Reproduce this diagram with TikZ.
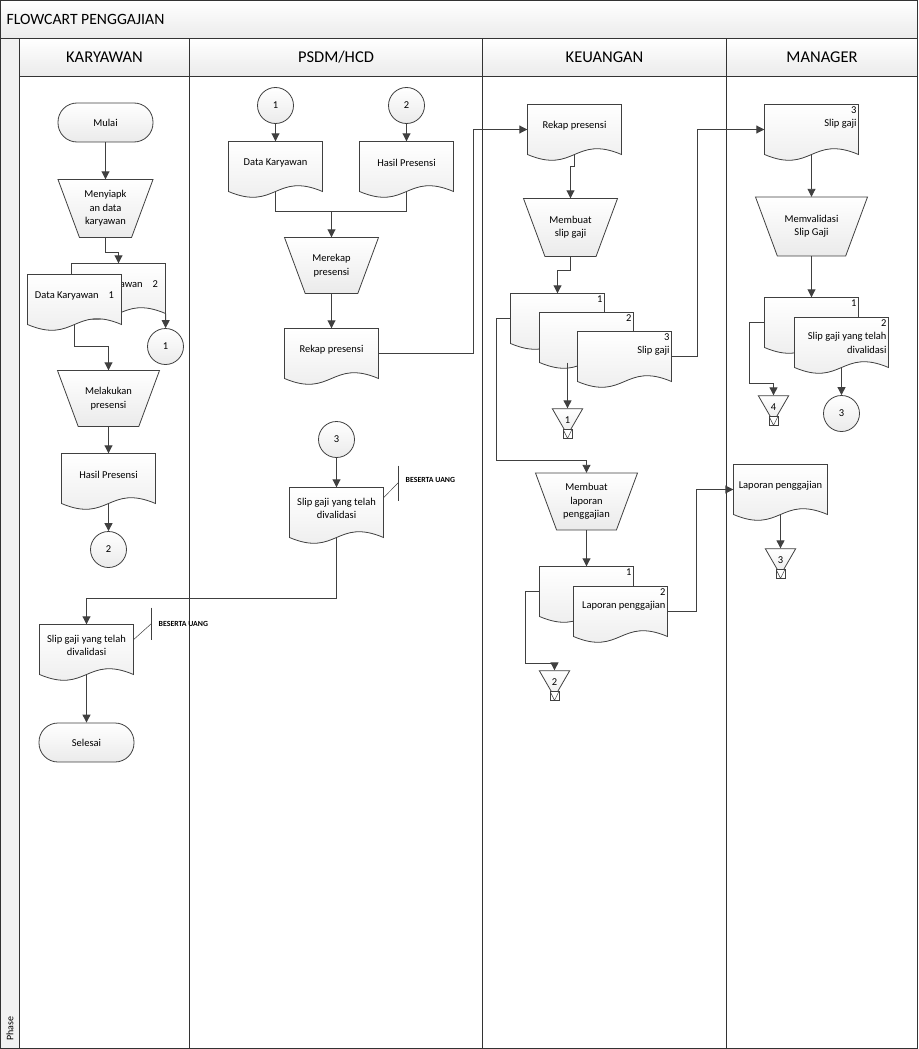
\documentclass[tikz,border=0pt]{standalone}
\usepackage{fontspec}
\setmainfont{Carlito}
\usetikzlibrary{shapes.geometric,arrows.meta}

\definecolor{lineclr}{HTML}{404040}
\definecolor{laneclr}{HTML}{333333}

\tikzset{
  txt/.style={font=\fontsize{10.5}{13.5}\selectfont, text=black},
  grad/.style={top color=white, bottom color=gray!16},
  docline/.style={draw=lineclr, line width=0.8pt, grad},
  docbox/.style={minimum width=94pt, minimum height=50pt, inner sep=0pt},
  manbox/.style={txt, align=center, inner sep=0pt},
  term/.style={txt, draw=lineclr, line width=0.8pt, grad, rounded corners=19pt, minimum width=95pt, minimum height=39pt},
  conn/.style={txt, draw=lineclr, line width=0.8pt, grad, circle, minimum size=36pt, inner sep=0pt},
  offpg/.style={draw=lineclr, line width=0.8pt, grad, regular polygon, regular polygon sides=3,
    shape border rotate=180, minimum size=35pt, inner sep=0pt},
  chkbox/.style={draw=lineclr, line width=0.6pt, fill=white, minimum size=9pt, inner sep=0pt,
    path picture={\draw[lineclr, line width=0.5pt] (path picture bounding box.north west)
      -- (path picture bounding box.south) -- (path picture bounding box.north east);}},
  arr/.style={draw=lineclr, line width=0.9pt, -{Triangle[length=8pt,width=8pt]}},
  link/.style={draw=lineclr, line width=0.9pt},
  note/.style={font=\bfseries\fontsize{7.8}{9}\selectfont, anchor=west, inner sep=0pt},
  noteline/.style={draw=lineclr, line width=0.5pt},
  lane/.style={draw=laneclr, line width=1pt},
  lanehead/.style={font=\fontsize{16.5}{18}\selectfont},
}

% document shape: left x, top y, width
\newcommand{\docshape}[3]{%
  \path[docline] (#1,#2) -- ({#1+#3},#2) -- ({#1+#3},{#2+50})
    .. controls ({#1+0.5*#3},{#2+30}) and ({#1+0.5*#3},{#2+70}) .. (#1,{#2+50}) -- cycle;
}
% document with centred text
\newcommand{\doc}[4]{%
  \docshape{#2}{#3}{94}
  \node[docbox] (#1) at ({#2+47},{#3+25}) {};
  \node[txt, align=center] (#1-t) at ({#2+47},{#3+21}) {#4};
}
% document with number in the corner
\newcommand{\numdoc}[5]{%
  \docshape{#2}{#3}{94}
  \node[docbox] (#1) at ({#2+47},{#3+25}) {};
  \node[txt, anchor=north east, align=right, inner sep=2pt] (#1-t) at (#1.north east) {#4\\#5};
}
% manual operation: name, centre x, centre y, top width, height, text
\newcommand{\manual}[6]{%
  \path[docline] ({#2-#4/2},{#3-#5/2}) -- ({#2+#4/2},{#3-#5/2})
    -- ({#2+#4/2-0.37*#5},{#3+#5/2}) -- ({#2-#4/2+0.37*#5},{#3+#5/2}) -- cycle;
  \node[manbox, minimum width={#4pt}, minimum height={#5pt}] (#1) at (#2,#3) {#6};
}
% off-page reference
\newcommand{\offpage}[4]{%
  \node[offpg] (#1) at (#2,{#3+9}) {};
  \node[chkbox] (#1-b) at ([yshift=2pt]#1.corner 1) {};
  \node[txt] (#1-n) at ([yshift=-3pt]#1.center) {#4};
}

\begin{document}
\begin{tikzpicture}[x=1pt, y=-1pt]
\useasboundingbox (-0.5,-0.5) rectangle (917.5,1048.5);

% swimlanes
\path[grad] (0,0) rectangle (917,38);
\path[grad] (19,38) rectangle (917,76);
\path[fill=gray!10] (0,38) rectangle (19,1048);
\draw[lane] (0,0) rectangle (917,1048);
\draw[lane] (0,38) -- (917,38);
\draw[lane] (19,76) -- (917,76);
\foreach \x in {19,189,482,726}
  \draw[lane] (\x,38) -- (\x,1048);
\node[font=\fontsize{15.7}{17}\selectfont, anchor=west, inner sep=0pt] (title) at (6,19) {FLOWCART PENGGAJIAN};
\foreach \x/\t in {104/KARYAWAN, 335.5/{PSDM/HCD}, 604/KEUANGAN, 821.5/MANAGER}
  \node[lanehead] (head-\x) at (\x,57) {\t};
\node[rotate=90, font=\fontsize{10}{11}\selectfont] (phase) at (9.5,1028) {Phase};

% KARYAWAN
\node[term] (mulai) at (105,122) {Mulai};
\manual{siapkan}{105}{208}{95}{58}{Menyiapk\\an data\\karyawan}
\doc{dk2}{71}{263}{Data Karyawan\hspace{10pt}2}
\doc{dk1}{27}{274}{Data Karyawan\hspace{10pt}1}
\node[conn] (kcon1) at (165,346) {1};
\manual{lakukan}{108}{398}{102}{56}{Melakukan\\presensi}
\doc{khasil}{61}{453}{Hasil Presensi}
\node[conn] (kcon2) at (108,549) {2};
\doc{kslip}{39}{624}{Slip gaji yang telah\\divalidasi}
\node[term] (selesai) at (86,742) {Selesai};
\coordinate (kbar) at (151,623);
\node[note] (knote) at (158,623) {BESERTA UANG};

% PSDM/HCD
\node[conn] (pcon1) at (275,105) {1};
\node[conn] (pcon2) at (406,105) {2};
\doc{pdk}{228}{141}{Data Karyawan}
\doc{phasil}{359}{141}{Hasil Presensi}
\coordinate (pjoin) at (331,211);
\manual{merekap}{331}{265}{94}{56}{Merekap\\presensi}
\doc{prekap}{284}{328}{Rekap presensi}
\node[conn] (pcon3) at (336,439) {3};
\doc{pslip}{289}{487}{Slip gaji yang telah\\divalidasi}
\coordinate (pbar) at (398,482);
\node[note] (pnote) at (405,479) {BESERTA UANG};

% KEUANGAN
\doc{urekap}{527}{104}{Rekap presensi}
\manual{uslip}{570}{227}{94}{58}{Membuat\\slip gaji}
\numdoc{us1}{510}{293}{1}{}
\numdoc{us2}{539}{312}{2}{}
\numdoc{us3}{577}{331}{3}{Slip gaji}
\offpage{off1}{567}{408}{1}
\coordinate (ubend) at (496,460);
\manual{ulap}{586}{501}{102}{57}{Membuat\\laporan\\penggajian}
\numdoc{ul1}{539}{566}{1}{}
\numdoc{ul2}{573}{586}{2}{Laporan penggajian}
\coordinate (ubend2) at (525,663);
\offpage{off2}{554}{670}{2}

% MANAGER
\numdoc{mslip}{764}{104}{3}{Slip gaji}
\manual{mvalid}{811}{226}{112}{59}{Memvalidasi\\Slip Gaji}
\numdoc{ms1}{764}{297}{1}{}
\numdoc{ms2}{794}{317}{2}{Slip gaji yang telah\\divalidasi}
\node[conn] (mcon3) at (841,413) {3};
\coordinate (mbend) at (749,383);
\offpage{off4}{773}{395}{4}
\doc{mlap}{733}{464}{Laporan penggajian}
\offpage{off3}{780}{548}{3}

% connectors
\draw[arr] (mulai) -- (siapkan);
\draw[arr] (siapkan.south) -- ++(0,15) -| (dk2.north);
\draw[arr] (dk2.south east) -- (kcon1);
\draw[arr] (dk1.south) -- ++(0,22) -| (lakukan.north);
\draw[arr] (lakukan) -- (khasil);
\draw[arr] (khasil) -- (kcon2);
\draw[arr] (pslip.south) -- ++(0,61) -| (kslip.north);
\draw[arr] (kslip) -- (selesai);
\draw[noteline] ([yshift=10pt]kslip.east) -- (kbar);
\draw[noteline] ([yshift=16pt]kbar) -- ([yshift=-16pt]kbar);

\draw[arr] (pcon1) -- (pdk);
\draw[arr] (pcon2) -- (phasil);
\draw[link] (pdk.south) |- (pjoin) -| (phasil.south);
\draw[arr] (pjoin) -- (merekap);
\draw[arr] (merekap) -- (prekap);
\draw[arr] (prekap.east) -- ++(95,0) |- (urekap.west);
\draw[arr] (pcon3) -- (pslip);
\draw[noteline] ([yshift=15pt]pslip.east) -- (pbar);
\draw[noteline] ([yshift=17pt]pbar) -- ([yshift=-18pt]pbar);

\draw[arr] (urekap.south) -- ++(0,12) -| (uslip.north);
\draw[arr] (uslip.south) -- ++(0,14) -| (us1.north);
\draw[arr] (off1.north |- us2.south) -- (off1.north);
\draw[arr] (us3.east) -- ++(26,0) |- (mslip.west);
\draw[arr] (us1.west) -| (ubend) -| (ulap.north);
\draw[arr] (ulap) -- (ul1);
\draw[arr] (ul2.east) -- ++(29,0) |- (mlap.west);
\draw[arr] (ul1.west) -| (ubend2) -| (off2.north);

\draw[arr] (mslip) -- (mvalid);
\draw[arr] (mvalid) -- (ms1);
\draw[arr] (ms2) -- (mcon3);
\draw[arr] (ms1.west) -| (mbend) -| (off4.north);
\draw[arr] (mlap) -- (off3);
\end{tikzpicture}
\end{document}
